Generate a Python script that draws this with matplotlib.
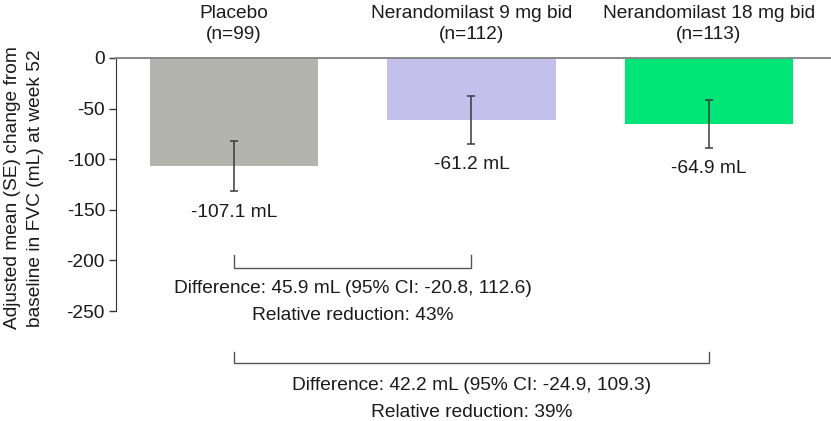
import numpy as np
import matplotlib
matplotlib.use("Agg")
import matplotlib.pyplot as plt

plt.rcParams['font.family'] = ['Liberation Sans', 'DejaVu Sans']
plt.rcParams['axes.unicode_minus'] = False

groups  = ["Placebo", "Nerandomilast 9 mg bid", "Nerandomilast 18 mg bid"]
n_pat   = [99, 112, 113]
means   = [-107.1, -61.2, -64.9]
se      = [24.6, 23.3, 23.7]
colors  = ["#b4b4ae", "#c4c0ec", "#00e676"]

# pairwise comparisons vs placebo
comp_from  = [0, 0]
comp_to    = [1, 2]
comp_diff  = [45.9, 42.2]
comp_ci    = [(-20.8, 112.6), (-24.9, 109.3)]
comp_red   = [43, 39]

fig = plt.figure(figsize=(8.31, 4.21), dpi=100)
ax = fig.add_axes([116/831, 1-311/421, 715/831, 253/421])

x = np.arange(len(groups))
ax.bar(x, means, width=0.71, color=colors, zorder=1)
ax.errorbar(x, means, yerr=se, fmt="none", ecolor="#3a3a3a", elinewidth=1.1,
            capsize=3, capthick=1.1, zorder=3)

fs = 13.8
for xi, m, s in zip(x, means, se):
    ax.annotate(f"{m:.1f} mL", (xi, m - s), xytext=(0, -15), textcoords="offset points",
                ha="center", va="center", fontsize=fs, color="#1a1a1a")

for xi, g, n in zip(x, groups, n_pat):
    ax.text(xi, 33.6, f"{g}\n(n={n})", ha="center", va="center", fontsize=fs,
            linespacing=1.25, color="#1a1a1a", clip_on=False)

# brackets + difference text below the axis
br_top = [-194.7, -290.5]
br_bot = [-207.5, -301.0]
txt_y  = [-228.0, -324.0]
for i in range(len(comp_from)):
    x0, x1 = x[comp_from[i]], x[comp_to[i]]
    ax.plot([x0, x0, x1, x1], [br_top[i], br_bot[i], br_bot[i], br_top[i]],
            color="#555555", lw=1.0, clip_on=False)
    lo, hi = comp_ci[i]
    xm = (x0 + x1) / 2
    ax.text(xm, txt_y[i], f"Difference: {comp_diff[i]} mL (95% CI: {lo}, {hi})",
            ha="center", va="center", fontsize=fs, color="#1a1a1a", clip_on=False)
    ax.text(xm, txt_y[i] - 26.5, f"Relative reduction: {comp_red[i]}%",
            ha="center", va="center", fontsize=fs, color="#1a1a1a", clip_on=False)

ax.set_xlim(-0.498, 2.515)
ax.set_ylim(-250, 0)
ax.set_yticks(np.arange(-250, 1, 50))
ax.set_xticks([])
ax.tick_params(axis="y", direction="out", length=5, width=1, color="#333333",
               labelsize=fs, pad=3, labelcolor="#1a1a1a")
for side in ["right", "bottom"]:
    ax.spines[side].set_visible(False)
ax.spines["left"].set_color("#333333")
ax.spines["top"].set_color("#888888")
ax.spines["top"].set_linewidth(1.4)

fig.text(24/831, 1-188/421, "Adjusted mean (SE) change from\nbaseline in FVC (mL) at week 52",
         rotation=90, ha="center", va="center", fontsize=fs, linespacing=1.45,
         color="#1a1a1a")

fig.savefig("out.png", dpi=100)
